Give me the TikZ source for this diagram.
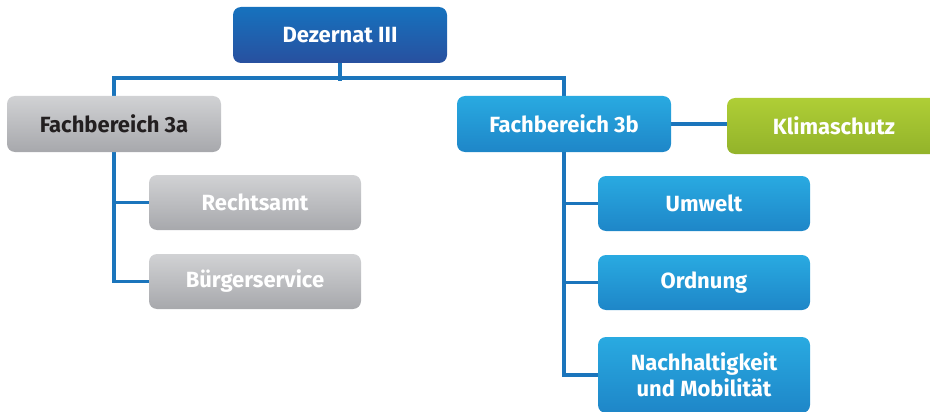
\documentclass[tikz,border=0pt]{standalone}
\usepackage{fontspec}
\setmainfont{Fira Sans}
\usetikzlibrary{backgrounds}
\definecolor{linkblue}{HTML}{1B75BC}
\definecolor{dezTop}{HTML}{1672BE}
\definecolor{dezBot}{HTML}{28509F}
\definecolor{fbTop}{HTML}{29AAE1}
\definecolor{fbBot}{HTML}{1E86C8}
\definecolor{grTop}{HTML}{D1D2D4}
\definecolor{grBot}{HTML}{A7A8AC}
\definecolor{klTop}{HTML}{AFCE36}
\definecolor{klBot}{HTML}{93B32A}
\definecolor{darktext}{HTML}{231F20}
\tikzset{
  orgbox/.style={rounded corners=8pt, inner sep=0pt, align=center,
    font=\fontsize{22}{26}\selectfont\bfseries, text=white},
  bigbox/.style={orgbox, minimum width=214pt, minimum height=56pt},
  subbox/.style={orgbox, minimum width=212pt, minimum height=55pt},
  dezstyle/.style={top color=dezTop, middle color=dezTop, bottom color=dezBot},
  bluestyle/.style={top color=fbTop, middle color=fbTop, bottom color=fbBot},
  graystyle/.style={top color=grTop, middle color=grTop, bottom color=grBot},
  greenstyle/.style={top color=klTop, middle color=klTop, bottom color=klBot},
  link/.style={draw=linkblue, line width=3.6pt}
}
\begin{document}
\begin{tikzpicture}[x=1pt,y=-1pt]
\useasboundingbox (0,0) rectangle (930,412);
\clip (0,0) rectangle (930,412);

% boxes
\node[bigbox, dezstyle] (dez) at (340,35) {Dezernat III};
\node[bigbox, graystyle, text=darktext] (fba) at (114,124) {Fachbereich 3a};
\node[bigbox, bluestyle] (fbb) at (564,124) {Fachbereich 3b};
\node[bigbox, greenstyle] (klima) at (834,126) {Klimaschutz};

\node[subbox, graystyle] (recht) at (255,202.5) {Rechtsamt};
\node[subbox, graystyle] (buerger) at (255,281.5) {Bürgerservice};

\node[subbox, bluestyle] (umwelt) at (704,203.5) {Umwelt};
\node[subbox, bluestyle] (ordnung) at (704,282.5) {Ordnung};
\node[subbox, bluestyle, minimum height=76pt] (nach) at (704,375) {Nachhaltigkeit\\und Mobilität};

% connectors
\begin{scope}[on background layer]
  \draw[link] (dez.south) -- ++(0,18);
  \draw[link] (fba.north) -- ++(0,-18) -| (fbb.north);
  \draw[link] (fba.south) |- (buerger.west);
  \draw[link] (fba.south |- recht.west) -- (recht.west);
  \draw[link] (fbb.south) |- (nach.west);
  \draw[link] (fbb.south |- umwelt.west) -- (umwelt.west);
  \draw[link] (fbb.south |- ordnung.west) -- (ordnung.west);
  \draw[link] (fbb.east) -- (fbb.east -| klima.west);
\end{scope}
\end{tikzpicture}
\end{document}
